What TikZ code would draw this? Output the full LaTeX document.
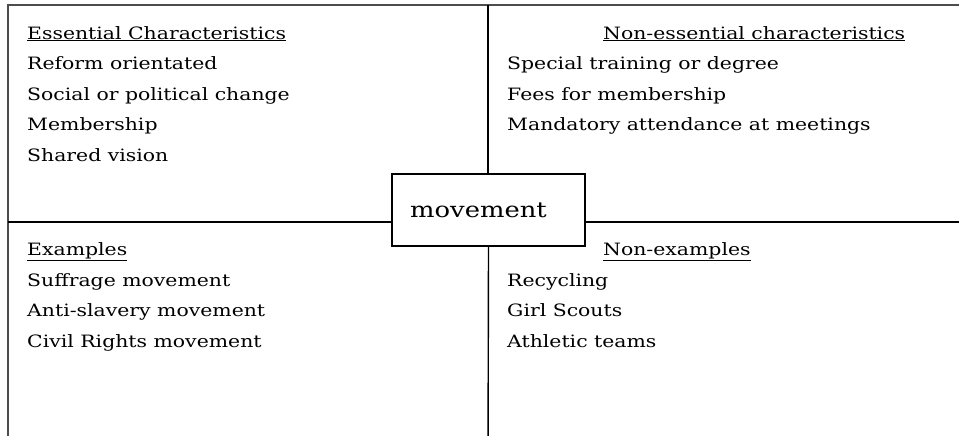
\documentclass[tikz,border=0pt]{standalone}
\usepackage{fontspec}
\setmainfont{DejaVu Serif}[FakeStretch=1.2]
\usepackage{tikz}
\usetikzlibrary{positioning}
\tikzset{
    cell/.style={anchor=base west, align=left, inner sep=0pt,
        font=\fontsize{17}{30.5}\selectfont},
    frame/.style={draw=black!70, line width=2pt},
    divider/.style={draw=black, line width=1.4pt},
    wordbox/.style={draw=black, line width=1.4pt, minimum width=193pt,
        minimum height=72pt, inner sep=0pt, fill=white,
        font=\fontsize{21.5}{24}\selectfont}
}
\begin{document}
\begin{tikzpicture}[x=1pt,y=-1pt]
    \useasboundingbox (0,0) rectangle (959,436);
    \clip (0,0) rectangle (959,436);
    \draw[frame] (8,5) rectangle (990,470);
    \coordinate (topmid) at (488,5);
    \coordinate (botmid) at (488,470);
    \coordinate (leftmid) at (8,222);
    \coordinate (rightmid) at (990,222);
    \node[wordbox] at (488.5,210) (word) {\hspace*{-20pt}movement};
    \draw[divider] (topmid) -- (topmid |- word.north);
    \draw[divider] (word.south) -- (botmid);
    \draw[divider] (leftmid) -- (leftmid -| word.west);
    \draw[divider] (word.east |- rightmid) -- (rightmid);
    % anchored at the baseline of the last line
    \node[cell] at (27,161) (essential) {\underline{Essential Characteristics}\\
        Reform orientated\\ Social or political change\\ Membership\\ Shared vision};
    \node[cell] at (507,130.5) (nonessential) {\hspace*{96pt}\underline{Non-essential characteristics}\\
        Special training or degree\\ Fees for membership\\ Mandatory attendance at meetings};
    \node[cell] at (27,347) (examples) {\underline{Examples}\\
        Suffrage movement\\ Anti-slavery movement\\ Civil Rights movement};
    \node[cell] at (507,347) (nonexamples) {\hspace*{96pt}\underline{Non-examples}\\
        Recycling\\ Girl Scouts\\ Athletic teams};
\end{tikzpicture}
\end{document}
